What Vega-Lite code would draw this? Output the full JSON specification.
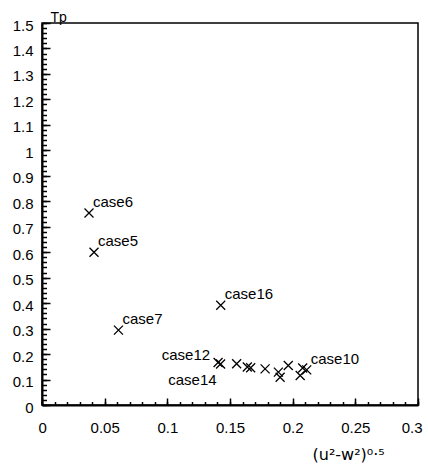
{
  "$schema": "https://vega.github.io/schema/vega-lite/v6.json",
  "autosize": "none",
  "padding": {"left": 42, "top": 23, "right": 10, "bottom": 61},
  "width": 376,
  "height": 382,
  "background": "white",
  "config": {
    "view": {"stroke": "black", "strokeWidth": 1.5},
    "axis": {"grid": false, "zindex": 1, "domainColor": "black", "domainWidth": 2, "labelColor": "black", "titleColor": "black", "labelFont": "Liberation Sans", "titleFont": "Liberation Sans", "labelFontSize": 15, "titleFontWeight": "normal", "labelOverlap": false, "ticks": true, "tickColor": "#000000", "tickOpacity": 1, "tickWidth": 1.5}
  },
  "data": {
    "values": [
      {"x": 0.0375, "y": 0.754, "label": "case6"},
      {"x": 0.0415, "y": 0.600, "label": "case5"},
      {"x": 0.061, "y": 0.294, "label": "case7"},
      {"x": 0.1426, "y": 0.392, "label": "case16"},
      {"x": 0.1405, "y": 0.167, "label": "case12"},
      {"x": 0.1425, "y": 0.161, "label": "case14"},
      {"x": 0.1553, "y": 0.162, "label": ""},
      {"x": 0.1638, "y": 0.149, "label": ""},
      {"x": 0.1665, "y": 0.146, "label": ""},
      {"x": 0.178, "y": 0.142, "label": ""},
      {"x": 0.1886, "y": 0.129, "label": ""},
      {"x": 0.19, "y": 0.109, "label": ""},
      {"x": 0.1965, "y": 0.155, "label": ""},
      {"x": 0.206, "y": 0.116, "label": ""},
      {"x": 0.208, "y": 0.145, "label": ""},
      {"x": 0.2112, "y": 0.138, "label": "case10"}
    ]
  },
  "resolve": {"axis": {"x": "independent", "y": "independent"}},
  "layer": [
    {
      "mark": {"type": "point", "opacity": 0},
      "encoding": {
        "x": {
          "field": "x", "type": "quantitative",
          "scale": {"domain": [0, 0.3], "nice": false},
          "axis": {
            "orient": "bottom",
            "values": [0,0.01,0.02,0.03,0.04,0.05,0.06,0.07,0.08,0.09,0.1,0.11,0.12,0.13,0.14,0.15,0.16,0.17,0.18,0.19,0.2,0.21,0.22,0.23,0.24,0.25,0.26,0.27,0.28,0.29,0.3],
            "labels": false, "domain": false, "title": null, "tickSize": -3.5
          }
        },
        "y": {
          "field": "y", "type": "quantitative",
          "scale": {"domain": [0, 1.5], "nice": false},
          "axis": {
            "orient": "left",
            "values": [0,0.02,0.04,0.06,0.08,0.1,0.12,0.14,0.16,0.18,0.2,0.22,0.24,0.26,0.28,0.3,0.32,0.34,0.36,0.38,0.4,0.42,0.44,0.46,0.48,0.5,0.52,0.54,0.56,0.58,0.6,0.62,0.64,0.66,0.68,0.7,0.72,0.74,0.76,0.78,0.8,0.82,0.84,0.86,0.88,0.9,0.92,0.94,0.96,0.98,1,1.02,1.04,1.06,1.08,1.1,1.12,1.14,1.16,1.18,1.2,1.22,1.24,1.26,1.28,1.3,1.32,1.34,1.36,1.38,1.4,1.42,1.44,1.46,1.48,1.5],
            "labels": false, "domain": false, "title": null, "tickSize": -4.5
          }
        }
      }
    },
    {
      "encoding": {
        "x": {
          "field": "x", "type": "quantitative",
          "scale": {"domain": [0, 0.3], "nice": false},
          "axis": {
            "orient": "bottom",
            "values": [0, 0.05, 0.1, 0.15, 0.2, 0.25, 0.3],
            "format": "~g",
            "labelFlush": true,
            "labelFlushOffset": 4,
            "tickSize": -7,
            "labelPadding": 22,
            "title": "(u²-w²)⁰·⁵",
            "titleFont": "DejaVu Sans",
            "titleFontSize": 16,
            "titleX": 270,
            "titleY": 54,
            "titleAlign": "left",
            "titleBaseline": "alphabetic"
          }
        },
        "y": {
          "field": "y", "type": "quantitative",
          "scale": {"domain": [0, 1.5], "nice": false},
          "axis": {
            "orient": "left",
            "values": [0,0.1,0.2,0.3,0.4,0.5,0.6,0.7,0.8,0.9,1,1.1,1.2,1.3,1.4,1.5],
            "format": "~g",
            "tickSize": -8,
            "labelPadding": 17,
            "labelOffset": 2,
            "title": "Tp",
            "titleFontSize": 14,
            "titleAngle": 0,
            "titleX": 8,
            "titleY": -1.5,
            "titleAlign": "left",
            "titleBaseline": "alphabetic"
          }
        }
      },
      "layer": [
        {
          "mark": {"type": "point", "shape": "M-1,-1L1,1M1,-1L-1,1", "size": 81, "filled": false, "stroke": "black", "strokeWidth": 1.3, "opacity": 1}
        },
        {
          "transform": [{"filter": "indexof(['case6','case5','case7','case16','case10'], datum.label) >= 0"}],
          "mark": {"type": "text", "align": "left", "baseline": "alphabetic", "dx": 4, "dy": -6, "font": "Liberation Sans", "fontSize": 15, "color": "black"},
          "encoding": {"text": {"field": "label"}}
        },
        {
          "transform": [{"filter": "datum.label == 'case12'"}],
          "mark": {"type": "text", "align": "right", "baseline": "alphabetic", "dx": -8, "dy": -2, "font": "Liberation Sans", "fontSize": 15, "color": "black"},
          "encoding": {"text": {"field": "label"}}
        },
        {
          "transform": [{"filter": "datum.label == 'case14'"}],
          "mark": {"type": "text", "align": "right", "baseline": "alphabetic", "dx": -4, "dy": 21, "font": "Liberation Sans", "fontSize": 15, "color": "black"},
          "encoding": {"text": {"field": "label"}}
        }
      ]
    }
  ]
}
